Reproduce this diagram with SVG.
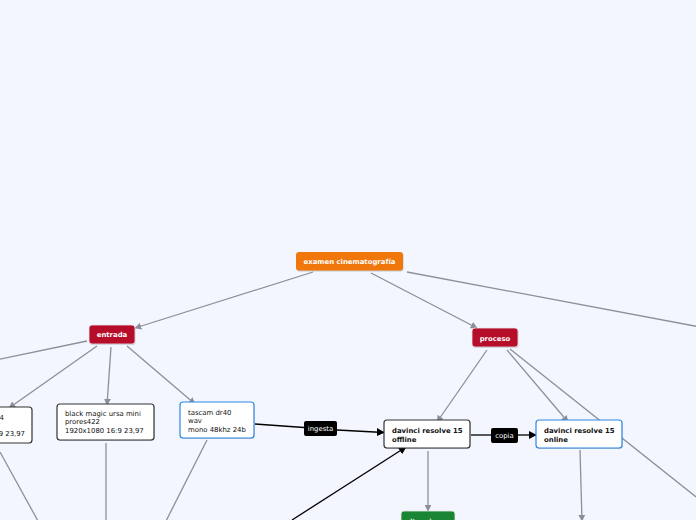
<svg xmlns="http://www.w3.org/2000/svg" width="696" height="520" viewBox="0 0 696 520">
<defs>
<style>
.bg{fill:#f3f6fe}
.c{stroke:#8c8f96;stroke-width:1.3;fill:none}
.cb{stroke:#000;stroke-width:1.3;fill:none}
.lbl{font-family:"DejaVu Sans",Verdana,sans-serif;font-size:6.9px}
.b{font-weight:bold}
.w{fill:#fff}
.k{fill:#111}
.box{fill:#fff;stroke:#333;stroke-width:1.2}
.boxb{fill:#fff;stroke:#2b86e6;stroke-width:1.2}
.sh{fill:#000;opacity:0.18}
</style>
<marker id="ag" viewBox="0 0 10 10" refX="9" refY="5" markerWidth="7" markerHeight="7" orient="auto" markerUnits="userSpaceOnUse"><path d="M0,0 L10,5 L0,10 z" fill="#8c8f96"/></marker>
<marker id="ab" viewBox="0 0 10 10" refX="9" refY="5" markerWidth="8" markerHeight="8" orient="auto" markerUnits="userSpaceOnUse"><path d="M0,0 L10,5 L0,10 z" fill="#000"/></marker>
</defs>
<rect class="bg" x="0" y="0" width="696" height="520"/>
<g id="connectors">
<line class="c" x1="313" y1="272" x2="135" y2="328" marker-end="url(#ag)"/>
<line class="c" x1="371" y1="273" x2="477" y2="328" marker-end="url(#ag)"/>
<line class="c" x1="407" y1="272" x2="700" y2="327"/>
<line class="c" x1="87" y1="341" x2="-4" y2="360"/>
<line class="c" x1="97" y1="346" x2="9" y2="408" marker-end="url(#ag)"/>
<line class="c" x1="111" y1="347" x2="107" y2="405" marker-end="url(#ag)"/>
<line class="c" x1="127" y1="346" x2="195" y2="404" marker-end="url(#ag)"/>
<line class="c" x1="487" y1="350" x2="437" y2="422" marker-end="url(#ag)"/>
<line class="c" x1="507" y1="350" x2="568" y2="422" marker-end="url(#ag)"/>
<line class="c" x1="510" y1="349" x2="700" y2="500"/>
<line class="c" x1="428" y1="451" x2="428" y2="511" marker-end="url(#ag)"/>
<line class="c" x1="580" y1="450" x2="582" y2="521" marker-end="url(#ag)"/>
<line class="c" x1="0" y1="452" x2="38" y2="521"/>
<line class="c" x1="106" y1="443" x2="106" y2="521"/>
<line class="c" x1="207" y1="440" x2="166" y2="521"/>
<line class="cb" x1="255" y1="424" x2="304" y2="427.5"/>
<line class="cb" x1="337" y1="430" x2="384" y2="432.5" marker-end="url(#ab)"/>
<line class="cb" x1="471" y1="435" x2="491" y2="435"/>
<line class="cb" x1="518" y1="435" x2="536" y2="435" marker-end="url(#ab)"/>
<line class="cb" x1="292" y1="520" x2="406" y2="447" marker-end="url(#ab)"/>
</g>
<g id="n-root">
<rect class="sh" x="296.5" y="253" width="107" height="18.5" rx="3"/>
<rect x="296" y="252" width="107" height="18.5" rx="3" fill="#ef770b"/>
<text class="lbl b w" x="349.5" y="264" text-anchor="middle">examen cinematografía</text>
</g>
<g id="n-entrada">
<rect class="sh" x="89.5" y="326" width="46" height="19" rx="3"/>
<rect x="89" y="325" width="46" height="19" rx="3" fill="#b50d2a" stroke="#e9e9ee" stroke-width="0.8"/>
<text class="lbl b w" x="112" y="337" text-anchor="middle">entrada</text>
</g>
<g id="n-proceso">
<rect class="sh" x="472.5" y="329" width="46" height="19" rx="3"/>
<rect x="472" y="328" width="46" height="19" rx="3" fill="#b50d2a" stroke="#e9e9ee" stroke-width="0.8"/>
<text class="lbl b w" x="495" y="340.5" text-anchor="middle">proceso</text>
</g>
<g id="n-left">
<rect class="box" x="-40" y="407" width="72" height="36" rx="3"/>
<text class="lbl k" text-anchor="end"><tspan x="4" y="420">h264</tspan><tspan x="25" y="436">1920x1080 16:9 23,97</tspan></text>
</g>
<g id="n-bm">
<rect class="sh" x="57.5" y="405" width="97" height="36" rx="3"/>
<rect class="box" x="57" y="404" width="97" height="36" rx="3"/>
<text class="lbl k"><tspan x="65" y="415.5">black magic ursa mini</tspan><tspan x="65" y="424">prores422</tspan><tspan x="65" y="432.5">1920x1080 16:9 23,97</tspan></text>
</g>
<g id="n-tascam">
<rect class="sh" x="180.5" y="403" width="74" height="36" rx="3"/>
<rect class="boxb" x="180" y="402" width="74" height="36" rx="3"/>
<text class="lbl k"><tspan x="188" y="414.5">tascam dr40</tspan><tspan x="188" y="423">wav</tspan><tspan x="188" y="431.5">mono 48khz 24b</tspan></text>
</g>
<g id="n-offline">
<rect class="sh" x="384.5" y="421" width="86" height="28" rx="3"/>
<rect class="box" x="384" y="420" width="86" height="28" rx="3"/>
<text class="lbl b k"><tspan x="392" y="433">davinci resolve 15</tspan><tspan x="392" y="441.5">offline</tspan></text>
</g>
<g id="n-online">
<rect class="sh" x="536.5" y="421" width="86" height="28" rx="3"/>
<rect class="boxb" x="536" y="420" width="86" height="28" rx="3"/>
<text class="lbl b k"><tspan x="544" y="433">davinci resolve 15</tspan><tspan x="544" y="441.5">online</tspan></text>
</g>
<g id="l-ingesta">
<rect x="304" y="421" width="33" height="15" rx="2" fill="#000"/>
<text class="lbl w" x="320.5" y="431" text-anchor="middle">ingesta</text>
</g>
<g id="l-copia">
<rect x="491" y="428" width="27" height="15" rx="2" fill="#000"/>
<text class="lbl w" x="504.5" y="438" text-anchor="middle">copia</text>
</g>
<g id="n-situaciones">
<rect x="401" y="511" width="54" height="20" rx="3" fill="#1a8634" stroke="#e9e9ee" stroke-width="0.8"/>
<text class="lbl b w" x="428" y="523.5" text-anchor="middle">situaciones</text>
</g>
</svg>
